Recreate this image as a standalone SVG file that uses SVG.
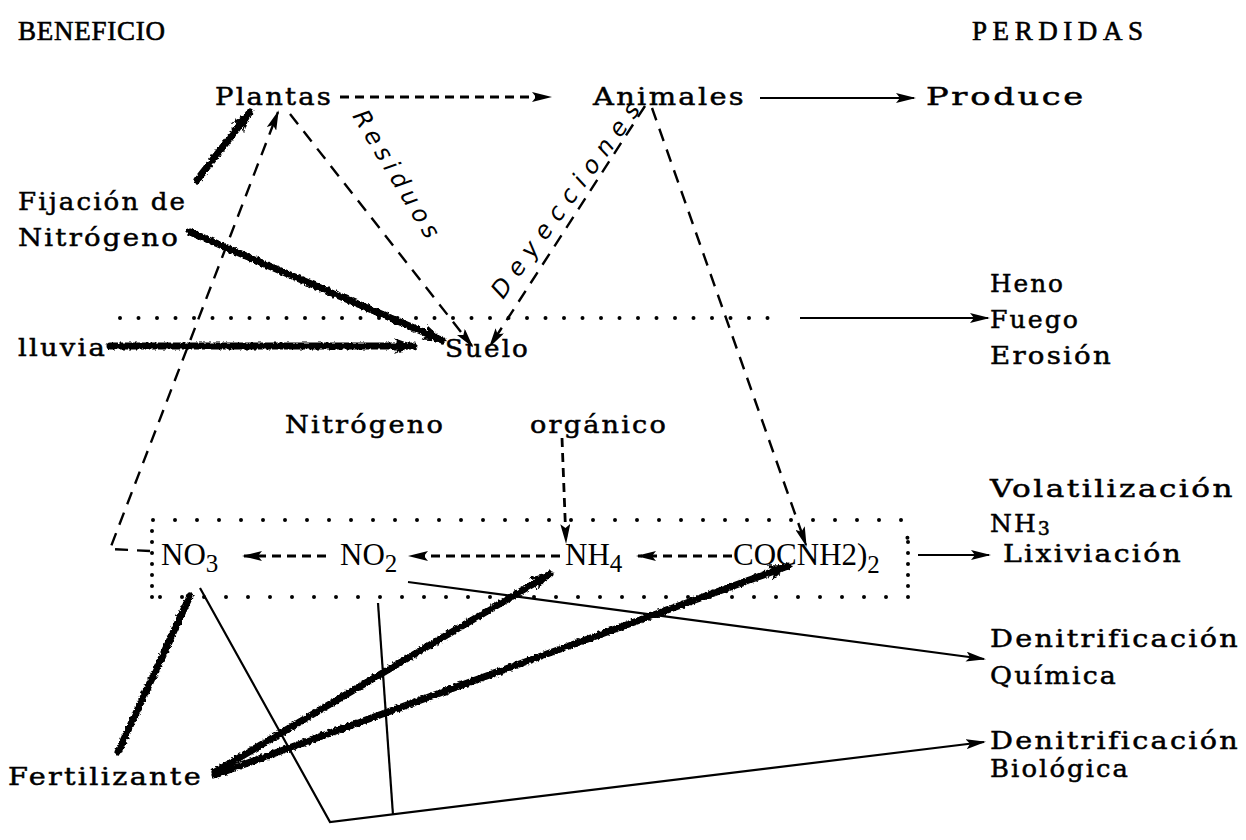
<svg xmlns="http://www.w3.org/2000/svg" width="1246" height="840" viewBox="0 0 1246 840">
<defs>
<style>
.t{font-family:"DejaVu Serif","Liberation Serif",serif;font-size:25px;letter-spacing:2px;fill:#000;stroke:#000;stroke-width:0.5}
.hd{font-family:"Liberation Serif","DejaVu Serif",serif;font-size:27px;fill:#000;stroke:#000;stroke-width:0.6}
.c{font-family:"Liberation Serif","DejaVu Serif",serif;font-size:31px;fill:#000}
.h{font-family:"DejaVu Sans",sans-serif;font-style:italic;font-size:24px;fill:#000}
.s{fill:none;stroke:#000;stroke-width:2.2}
.d{fill:none;stroke:#000;stroke-width:2.4;stroke-dasharray:13 9}
.dd{fill:none;stroke:#000;stroke-width:2.8;stroke-dasharray:9 6}
.dot{fill:none;stroke:#000;stroke-width:4;stroke-linecap:round;stroke-dasharray:0 18.5}
.dotb{fill:none;stroke:#000;stroke-width:4;stroke-linecap:round;stroke-dasharray:0 22}
.dotv{fill:none;stroke:#000;stroke-width:4;stroke-linecap:round;stroke-dasharray:0 11}
.k{fill:none;stroke:#000;stroke-width:7;stroke-linecap:round}
</style>
<filter id="rough" filterUnits="userSpaceOnUse" x="0" y="0" width="1246" height="840">
<feTurbulence type="fractalNoise" baseFrequency="0.35" numOctaves="2" seed="3" result="n"/>
<feDisplacementMap in="SourceGraphic" in2="n" scale="4" xChannelSelector="R" yChannelSelector="G"/>
</filter>
<marker id="ah" markerUnits="userSpaceOnUse" markerWidth="20" markerHeight="10" refX="18" refY="5" orient="auto"><path d="M0,0 L20,5 L0,10 L4,5 Z" fill="#000"/></marker>
<marker id="ak" markerUnits="userSpaceOnUse" markerWidth="24" markerHeight="18" refX="20" refY="9" orient="auto"><path d="M0,1 L22,9 L0,17 L6,9 Z" fill="#000"/></marker>
</defs>
<rect width="1246" height="840" fill="#fff"/>

<g id="headers">
<text class="hd" x="18" y="40" textLength="147">BENEFICIO</text>
<text class="hd" x="972" y="40" textLength="171">PERDIDAS</text>
</g>

<g id="plantas"><text class="t" x="215" y="105" textLength="118" lengthAdjust="spacingAndGlyphs">Plantas</text></g>
<g id="animales"><text class="t" x="593" y="105" textLength="153" lengthAdjust="spacingAndGlyphs">Animales</text></g>
<g id="produce"><text class="t" x="926" y="105" textLength="160" lengthAdjust="spacingAndGlyphs">Produce</text></g>
<g id="fijacion"><text class="t" x="18" y="210" textLength="169" lengthAdjust="spacingAndGlyphs">Fijación de</text><text class="t" x="18" y="246" textLength="162" lengthAdjust="spacingAndGlyphs">Nitrógeno</text></g>
<g id="lluvia"><text class="t" x="18" y="356" textLength="89" lengthAdjust="spacingAndGlyphs">lluvia</text></g>
<g id="suelo"><text class="t" x="445" y="357" textLength="85" lengthAdjust="spacingAndGlyphs">Suelo</text></g>
<g id="heno"><text class="t" x="990" y="292" textLength="75" lengthAdjust="spacingAndGlyphs">Heno</text><text class="t" x="990" y="328" textLength="90" lengthAdjust="spacingAndGlyphs">Fuego</text><text class="t" x="990" y="364" textLength="123" lengthAdjust="spacingAndGlyphs">Erosión</text></g>
<g id="norganico"><text class="t" x="285" y="433" textLength="160" lengthAdjust="spacingAndGlyphs">Nitrógeno</text><text class="t" x="530" y="433" textLength="138" lengthAdjust="spacingAndGlyphs">orgánico</text></g>
<g id="volatil"><text class="t" x="990" y="497" textLength="245" lengthAdjust="spacingAndGlyphs">Volatilización</text><text class="t" x="990" y="532">NH<tspan font-size="19" dy="3">3</tspan></text></g>
<g id="no3"><text class="c" x="161" y="565">NO<tspan font-size="25" dy="7">3</tspan></text></g>
<g id="no2"><text class="c" x="340" y="565">NO<tspan font-size="25" dy="7">2</tspan></text></g>
<g id="nh4"><text class="c" x="565" y="565">NH<tspan font-size="25" dy="7">4</tspan></text></g>
<g id="urea"><text class="c" x="733" y="565">COCNH2)<tspan font-size="25" dy="8">2</tspan></text></g>
<g id="lixiviacion"><text class="t" x="1003" y="562" textLength="180" lengthAdjust="spacingAndGlyphs">Lixiviación</text></g>
<g id="quimica"><text class="t" x="990" y="647" textLength="250" lengthAdjust="spacingAndGlyphs">Denitrificación</text><text class="t" x="990" y="684" textLength="128" lengthAdjust="spacingAndGlyphs">Química</text></g>
<g id="biologica"><text class="t" x="990" y="749" textLength="250" lengthAdjust="spacingAndGlyphs">Denitrificación</text><text class="t" x="990" y="777" textLength="140" lengthAdjust="spacingAndGlyphs">Biológica</text></g>
<g id="fertilizante"><text class="t" x="8" y="785" textLength="195" lengthAdjust="spacingAndGlyphs">Fertilizante</text></g>
<g id="labels">
<text class="h" transform="translate(352,116) rotate(59)" textLength="145">Residuos</text>
<text class="h" transform="translate(503,300) rotate(-54)" textLength="235">Deyecciones</text>
</g>

<g id="connectors">
<line class="dd" x1="340" y1="97" x2="550" y2="97" marker-end="url(#ah)"/>
<line class="s" x1="760" y1="98" x2="914" y2="98" stroke-width="3" marker-end="url(#ah)"/>
<g filter="url(#rough)">
<path class="k" d="M197,180 L250,112" marker-end="url(#ak)"/>
<path class="k" d="M190,232 L442,340" marker-end="url(#ak)"/>
<path class="k" d="M110,346 L414,346" stroke-width="6" marker-end="url(#ak)"/>
<path class="k" d="M118,752 L190,596" stroke-width="6"/>
<path class="k" d="M215,772 L550,574" marker-end="url(#ak)"/>
<path class="k" d="M215,775 L788,566" marker-end="url(#ak)"/>
</g>
<path class="d" d="M150,551 L110,549 L278,112" marker-end="url(#ah)"/>
<path class="d" d="M290,114 L472,346" marker-end="url(#ah)"/>
<path class="d" d="M645,106 L490,346" marker-end="url(#ah)"/>
<path class="d" d="M652,108 L806,545" marker-end="url(#ah)"/>
<path class="dd" d="M562,438 L566,542" stroke-width="2" marker-end="url(#ah)"/>
<line class="dot" x1="120" y1="318" x2="785" y2="318"/>
<line class="s" x1="800" y1="318" x2="988" y2="318" stroke-width="3" marker-end="url(#ah)"/>
<path class="dotb" d="M153,520 L905,520 L908,542"/>
<path class="dotv" d="M908,542 L908,597"/>
<path class="dotb" d="M908,597 L152,597"/>
<path class="dotv" d="M152,597 L152,520"/>
<line class="dd" x1="326" y1="556" x2="244" y2="556" marker-end="url(#ah)"/>
<line class="dd" x1="560" y1="556" x2="410" y2="556" marker-end="url(#ah)"/>
<line class="dd" x1="732" y1="556" x2="638" y2="556" marker-end="url(#ah)"/>
<line class="s" x1="918" y1="555" x2="989" y2="555" stroke-width="3" marker-end="url(#ah)"/>
<line class="s" x1="408" y1="582" x2="984" y2="659" marker-end="url(#ah)"/>
<path class="s" d="M200,588 L330,822 L984,742" marker-end="url(#ah)"/>
<line class="s" x1="378" y1="603" x2="393" y2="815"/>
</g>
</svg>
